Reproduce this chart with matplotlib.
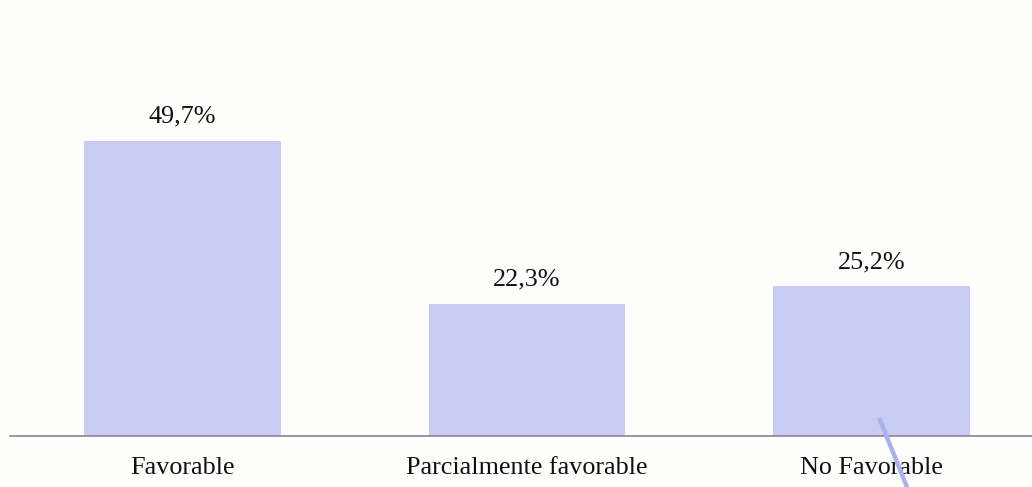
import matplotlib.pyplot as plt
from matplotlib.lines import Line2D

categories = ['Favorable', 'Parcialmente favorable', 'No Favorable']
values = [49.7, 22.3, 25.2]
value_labels = ['49,7%', '22,3%', '25,2%']

plt.rcParams['font.family'] = ['Liberation Serif', 'DejaVu Serif']

fig = plt.figure(figsize=(10.32, 4.87), dpi=100, facecolor='#fefefd')
# axes spans from the baseline up to the top edge
ax = fig.add_axes([10 / 1032, (487 - 436) / 487, 1022 / 1032, 436 / 487])
ax.set_facecolor('none')

x = range(len(categories))
bars = ax.bar(x, values, width=0.571, color='#c8cbf2', zorder=2)

for b, lab in zip(bars, value_labels):
    ax.text(b.get_x() + b.get_width() / 2, b.get_height() + 4.1, lab,
            ha='center', va='center', fontsize=18.8, color='#111111')

ax.set_xlim(-0.5, 2.465)
ax.set_ylim(0, 73.45)
ax.set_xticks(list(x))
ax.set_xticklabels(categories, fontsize=18.8, color='#111111')
ax.tick_params(axis='x', length=0, pad=15)
ax.set_yticks([])
for s in ['top', 'right', 'left']:
    ax.spines[s].set_visible(False)
ax.spines['bottom'].set_color('#888888')
ax.spines['bottom'].set_linewidth(1.2)

# stray pointer stroke over the last bar
fig.add_artist(Line2D([880 / 1032, 907 / 1032], [1 - 420 / 487, 0],
                      color='#aab1ef', linewidth=3.2, zorder=5))

fig.savefig('out.png', dpi=100, facecolor=fig.get_facecolor())
